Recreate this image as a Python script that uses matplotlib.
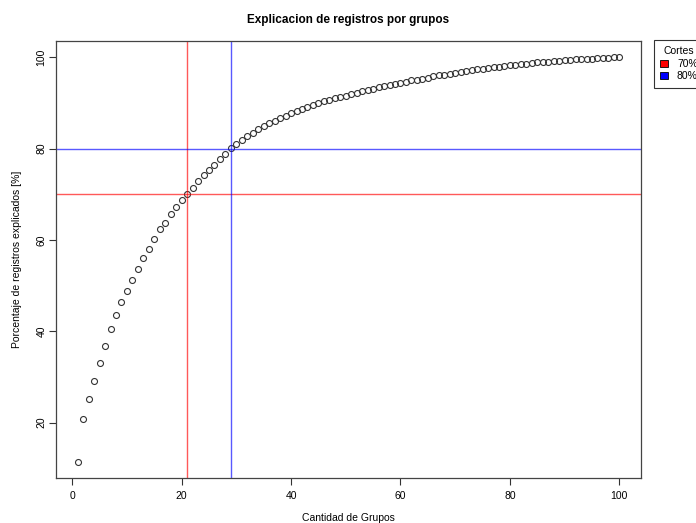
import matplotlib
matplotlib.use("Agg")
import matplotlib.pyplot as plt
from matplotlib.patches import Patch

plt.rcParams['font.family'] = ['Liberation Sans', 'DejaVu Sans']

# cumulative percentage of explained records per number of groups
grupos = list(range(1, 101))
porcentaje = [
    11.4, 20.8, 25.2, 29.2, 33.1, 36.8, 40.4, 43.6, 46.5, 48.9,
    51.3, 53.7, 56.1, 58.1, 60.3, 62.3, 63.8, 65.6, 67.3, 68.8,
    70.1, 71.45, 72.8, 74.1, 75.3, 76.5, 77.7, 78.9, 80.05, 81.0,
    81.9, 82.7, 83.5, 84.2, 84.9, 85.5, 86.1, 86.7, 87.2, 87.7,
    88.2, 88.6, 89.1, 89.5, 89.9, 90.3, 90.6, 91.0, 91.3, 91.6,
    91.9, 92.2, 92.5, 92.8, 93.1, 93.4, 93.6, 93.9, 94.1, 94.4,
    94.6, 94.9, 95.1, 95.3, 95.5, 95.8, 96.0, 96.2, 96.4, 96.6,
    96.8, 97.0, 97.2, 97.35, 97.5, 97.65, 97.8, 97.95, 98.1, 98.2,
    98.35, 98.5, 98.6, 98.7, 98.85, 98.95, 99.05, 99.15, 99.25, 99.3,
    99.4, 99.5, 99.55, 99.6, 99.7, 99.75, 99.8, 99.9, 99.95, 100.0,
]
cortes = ["70%", "80%"]
corte_pct = [70, 80]
corte_grupo = [21, 29]
corte_col = ["red", "blue"]

fig = plt.figure(figsize=(6.96, 5.23), dpi=100)
ax = fig.add_axes([0.0805, 0.086, 0.8405, 0.8356])

ax.plot(grupos, porcentaje, linestyle="none", marker="o", markersize=4.3,
        markerfacecolor="none", markeredgecolor="#333333", markeredgewidth=0.8)

for p, g, c in zip(corte_pct, corte_grupo, corte_col):
    ax.axhline(p, color=c, lw=1, alpha=0.65)
    ax.axvline(g, color=c, lw=1, alpha=0.65)

ax.set_xlim(-2.96, 103.96)
ax.set_ylim(7.86, 103.54)
ax.set_xticks([0, 20, 40, 60, 80, 100])
ax.set_yticks([20, 40, 60, 80, 100])
ax.tick_params(direction="out", length=5, width=0.8, labelsize=7.5, colors="#333333",
               labelcolor="black")
ax.tick_params(axis="x", pad=4)
ax.tick_params(axis="y", pad=2)
for lab in ax.get_yticklabels():
    lab.set_rotation(90)
    lab.set_va("center")
for s in ax.spines.values():
    s.set_color("#444444")
    s.set_linewidth(0.9)

ax.set_xlabel("Cantidad de Grupos", fontsize=7.5, labelpad=9)
ax.set_ylabel("Porcentaje de registros explicados [%]", fontsize=7.5, labelpad=10)
ax.set_title("Explicacion de registros por grupos", fontsize=8.5, fontweight="bold", pad=13)

handles = [Patch(facecolor=c, edgecolor="black", linewidth=0.6) for c in corte_col]
leg = fig.legend(handles, cortes, title="Cortes", loc="upper left",
                 bbox_to_anchor=(0.9397, 0.9235), borderaxespad=0,
                 fontsize=7.5, title_fontsize=7.5,
                 frameon=True, fancybox=False, edgecolor="black",
                 handlelength=0.7, handleheight=0.7, handletextpad=0.9,
                 borderpad=0.6, labelspacing=0.25)
leg.get_frame().set_linewidth(0.8)

fig.savefig("out.png", dpi=100)
